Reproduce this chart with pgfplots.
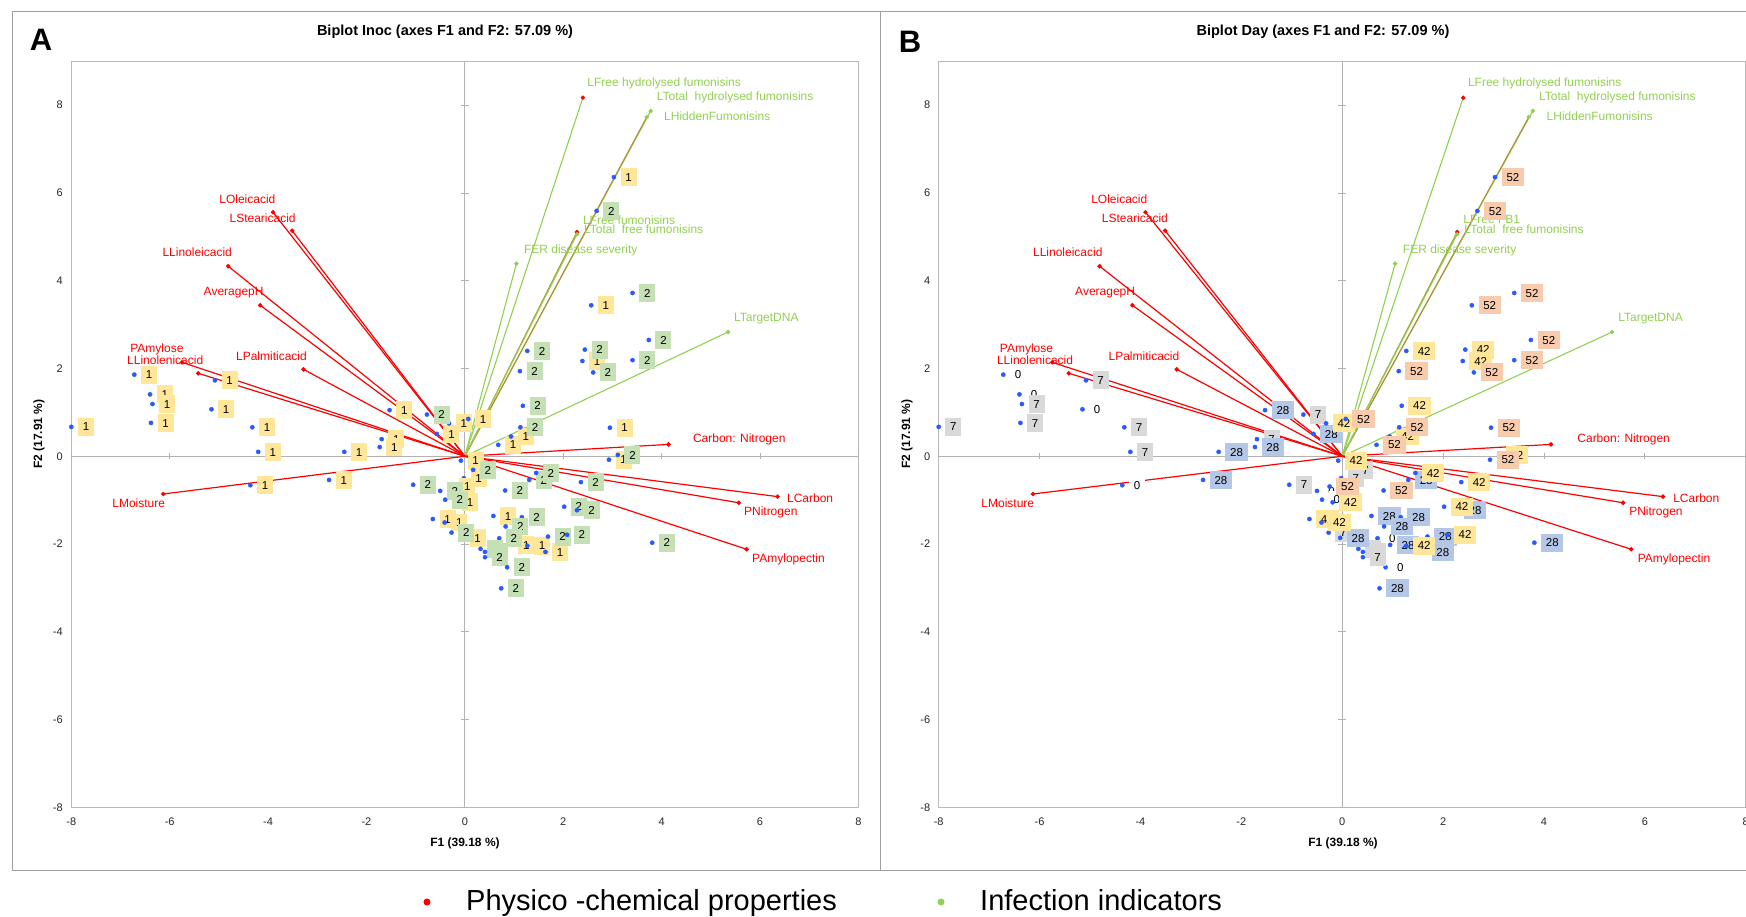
\documentclass[border=0pt]{standalone}
\usepackage{pgfplots}
\pgfplotsset{compat=1.18}
\usepackage{pgfplotstable}
\usepackage{fontspec}
\setmainfont{Liberation Sans}

\definecolor{vred}{RGB}{255,0,0}
\definecolor{vgreen}{RGB}{146,208,80}
\definecolor{volive}{RGB}{178,142,62}
\definecolor{dotblue}{RGB}{40,90,255}
\definecolor{byellow}{RGB}{255,230,153}
\definecolor{bgreen}{RGB}{197,224,180}
\definecolor{bgray}{RGB}{217,217,217}
\definecolor{bblue}{RGB}{180,199,231}
\definecolor{borange}{RGB}{248,203,173}
\definecolor{framegray}{RGB}{160,160,160}

\newcommand\ticklab{\fontsize{11}{11}\selectfont}
\newcommand\vlab{\fontsize{12}{12}\selectfont}
\newcommand\boxlab{\fontsize{11.5}{11.5}\selectfont}

% ---------- observations, panel A (Inoc) ----------
\pgfplotstableread{
x y
-8.00 0.67
-6.72 1.86
-6.40 1.41
-6.35 1.19
-6.38 0.76
-5.08 1.73
-5.15 1.07
-4.32 0.66
-4.20 0.10
-4.36 -0.66
-2.76 -0.54
-2.45 0.10
-1.53 1.05
-1.69 0.39
-1.73 0.21
-0.57 0.51
-0.32 0.75
0.07 0.85
0.68 0.26
0.94 0.45
2.39 2.17
2.95 0.65
2.57 3.44
3.03 6.36
2.93 -0.08
-0.08 -0.10
-0.02 -0.50
-0.25 -0.69
-0.19 -1.05
-0.65 -1.43
-0.41 -1.51
-0.04 -1.86
0.58 -1.36
0.95 -2.02
1.27 -2.04
1.64 -2.18
}\Aone
\pgfplotstableread{
x y
-0.77 0.95
1.13 0.66
1.18 1.15
1.12 1.94
1.27 2.40
2.44 2.43
2.61 1.91
3.41 2.19
3.74 2.65
3.41 3.72
2.68 5.59
3.11 0.03
0.17 -0.31
-1.05 -0.65
-0.50 -0.79
-0.40 -0.99
-0.27 -1.74
0.82 -0.78
1.31 -0.54
1.45 -0.38
2.36 -0.59
2.02 -1.15
2.28 -1.23
1.16 -1.39
0.83 -1.60
0.70 -1.87
0.32 -2.11
0.41 -2.18
0.41 -2.30
1.69 -1.83
2.08 -1.79
3.81 -1.97
0.86 -2.53
0.74 -3.01
}\Atwo
% ---------- observations, panel B (Day) ----------
\pgfplotstableread{
x y
-6.72 1.86
-6.40 1.41
-5.15 1.07
-4.36 -0.66
-0.50 -0.79
-0.40 -0.99
0.70 -1.87
0.86 -2.53
}\Bzero
\pgfplotstableread{
x y
-8.00 0.67
-6.35 1.19
-6.38 0.76
-5.08 1.73
-4.32 0.66
-4.20 0.10
-1.69 0.39
-0.77 0.95
0.17 -0.31
-0.02 -0.50
-1.05 -0.65
-0.27 -1.74
0.32 -2.11
0.41 -2.18
0.41 -2.30
}\Bseven
\pgfplotstableread{
x y
-2.76 -0.54
-2.45 0.10
-1.53 1.05
-1.73 0.21
-0.57 0.51
-0.04 -1.86
1.31 -0.54
2.28 -1.23
0.58 -1.36
1.16 -1.39
0.83 -1.60
0.95 -2.02
1.64 -2.18
1.69 -1.83
3.81 -1.97
0.74 -3.01
}\Btwentyeight
\pgfplotstableread{
x y
-0.32 0.75
0.94 0.45
1.18 1.15
1.27 2.40
2.44 2.43
2.39 2.17
3.11 0.03
-0.08 -0.10
-0.19 -1.05
-0.65 -1.43
-0.41 -1.51
1.45 -0.38
2.36 -0.59
2.02 -1.15
1.27 -2.04
2.08 -1.79
}\Bfortytwo
\pgfplotstableread{
x y
0.07 0.85
0.68 0.26
1.13 0.66
1.12 1.94
2.61 1.91
3.41 2.19
3.74 2.65
2.95 0.65
2.57 3.44
3.41 3.72
2.68 5.59
3.03 6.36
2.93 -0.08
-0.25 -0.69
0.82 -0.78
}\Bfiftytwo

\pgfplotsset{
  bip/.style={
    scale only axis, height=746pt, anchor=south west,
    xmin=-8, xmax=8, ymin=-8, ymax=9,
    xtick={-8,-6,...,8}, ytick={-8,-6,...,8},
    axis line style={draw=gray!55, line width=0.8pt},
    major tick length=0pt,
    tick label style={font=\ticklab, text=black!85},
    /pgf/number format/assume math mode=true,
    yticklabel style={xshift=-5pt},
    xticklabel style={yshift=-7pt},
    clip=false,
  },
  vr/.style={vred, line width=1.2pt, mark=*, mark size=1.6pt, mark indices={2}},
  vg/.style={vgreen, line width=1.1pt, mark=*, mark size=1.6pt, mark indices={2}},
  vo/.style={volive, line width=1.1pt, mark=*, mark size=1.6pt, mark indices={2}},
  obs/.style={only marks, mark=*, mark size=2.1pt, color=dotblue,
    every node near coord/.style={fill=#1, text=black, font=\boxlab, anchor=west,
      xshift=6.5pt, inner xsep=4.8pt, inner ysep=4.8pt, text height=8.3pt, text depth=0pt}},
}

\newcommand{\zerolines}{%
  \draw[gray!60, line width=0.8pt] (axis cs:-8,0) -- (axis cs:8,0);
  \draw[gray!60, line width=0.8pt] (axis cs:0,-8) -- (axis cs:0,9);
  \pgfplotsinvokeforeach{-8,-6,-4,-2,2,4,6,8}{%
    \draw[gray!60, line width=0.8pt] ([yshift=-3pt]axis cs:##1,0) -- ([yshift=3pt]axis cs:##1,0);
    \draw[gray!60, line width=0.8pt] ([xshift=-4pt]axis cs:0,##1) -- ([xshift=4pt]axis cs:0,##1);
  }%
}

\newcommand{\biplotvectors}{%
  \addplot[vg, mark options={fill=vred, draw=vred}] coordinates {(0,0) (2.40,8.17)};
  \addplot[vg] coordinates {(0,0) (3.78,7.87)};
  \addplot[vo, mark options={fill=vgreen, draw=vgreen}] coordinates {(0,0) (3.70,7.73)};
  \addplot[vo, mark options={fill=vred, draw=vred}] coordinates {(0,0) (2.28,5.11)};
  \addplot[vg] coordinates {(0,0) (2.28,5.06)};
  \addplot[vg] coordinates {(0,0) (1.05,4.39)};
  \addplot[vg] coordinates {(0,0) (5.35,2.83)};
  \addplot[vr] coordinates {(0,0) (-3.90,5.56)};
  \addplot[vr] coordinates {(0,0) (-3.51,5.14)};
  \addplot[vr] coordinates {(0,0) (-4.81,4.33)};
  \addplot[vr] coordinates {(0,0) (-4.16,3.44)};
  \addplot[vr] coordinates {(0,0) (-5.75,2.14)};
  \addplot[vr] coordinates {(0,0) (-5.42,1.89)};
  \addplot[vr] coordinates {(0,0) (-3.28,1.98)};
  \addplot[vr] coordinates {(0,0) (4.14,0.27)};
  \addplot[vr] coordinates {(0,0) (-6.13,-0.86)};
  \addplot[vr] coordinates {(0,0) (6.36,-0.92)};
  \addplot[vr] coordinates {(0,0) (5.57,-1.06)};
  \addplot[vr] coordinates {(0,0) (5.73,-2.12)};
}

\newcommand{\vectorlabels}[1]{%
  \node[font=\vlab, text=vred, inner sep=0pt] at (axis cs:-4.42,5.86) {LOleicacid};
  \node[font=\vlab, text=vred, inner sep=0pt] at (axis cs:-4.11,5.43) {LStearicacid};
  \node[font=\vlab, text=vred, inner sep=0pt] at (axis cs:-5.44,4.64) {LLinoleicacid};
  \node[font=\vlab, text=vred, inner sep=0pt] at (axis cs:-4.70,3.73) {AveragepH};
  \node[font=\vlab, text=vred, inner sep=0pt] at (axis cs:-6.26,2.44) {PAmylose};
  \node[font=\vlab, text=vred, inner sep=0pt] at (axis cs:-6.09,2.19) {LLinolenicacid};
  \node[font=\vlab, text=vred, inner sep=0pt] at (axis cs:-3.93,2.27) {LPalmiticacid};
  \node[font=\vlab, text=vred, inner sep=0pt] at (axis cs:5.58,0.38) {Carbon: Nitrogen};
  \node[font=\vlab, text=vred, inner sep=0pt] at (axis cs:-6.63,-1.06) {LMoisture};
  \node[font=\vlab, text=vred, inner sep=0pt] at (axis cs:7.02,-0.95) {LCarbon};
  \node[font=\vlab, text=vred, inner sep=0pt] at (axis cs:6.22,-1.27) {PNitrogen};
  \node[font=\vlab, text=vred, inner sep=0pt] at (axis cs:6.58,-2.34) {PAmylopectin};
  \node[font=\vlab, text=vgreen, inner sep=0pt, anchor=west] at (axis cs:2.49,8.49) {LFree hydrolysed fumonisins};
  \node[font=\vlab, text=vgreen, inner sep=0pt, anchor=west] at (axis cs:3.90,8.18) {LTotal\ \ hydrolysed fumonisins};
  \node[font=\vlab, text=vgreen, inner sep=0pt, anchor=west] at (axis cs:4.05,7.76) {LHiddenFumonisins};
  \node[font=\vlab, text=vgreen, inner sep=0pt, anchor=west] at (axis cs:2.40,5.39) {#1};
  \node[font=\vlab, text=vgreen, inner sep=0pt, anchor=west] at (axis cs:2.42,5.17) {LTotal\ \ free fumonisins};
  \node[font=\vlab, text=vgreen, inner sep=0pt, anchor=west] at (axis cs:1.20,4.68) {FER disease severity};
  \node[font=\vlab, text=vgreen, inner sep=0pt, anchor=west] at (axis cs:5.47,3.14) {LTargetDNA};
}

\begin{document}
\begin{tikzpicture}
\useasboundingbox (0pt,0pt) rectangle (1746pt,-916pt);

% panel frames
\draw[framegray, line width=1pt] (12pt,-11pt) rectangle (880pt,-870pt);
\draw[framegray, line width=1pt] (880pt,-11pt) -- (1760pt,-11pt);
\draw[framegray, line width=1pt] (880pt,-870pt) -- (1760pt,-870pt);

% ---------------- Panel A ----------------
\begin{axis}[bip, at={(71.3pt,-807.3pt)}, width=787pt]
  \zerolines
  \biplotvectors
  \addplot[obs=byellow, nodes near coords={1}] table {\Aone};
  \addplot[obs=bgreen, nodes near coords={2}] table {\Atwo};
  \vectorlabels{LFree fumonisins}
\end{axis}

% ---------------- Panel B ----------------
\begin{axis}[bip, at={(938.7pt,-807.3pt)}, width=807pt]
  \zerolines
  \biplotvectors
  \addplot[obs=white, nodes near coords={0}] table {\Bzero};
  \addplot[obs=bgray, nodes near coords={7}] table {\Bseven};
  \addplot[obs=bblue, nodes near coords={28}] table {\Btwentyeight};
  \addplot[obs=byellow, nodes near coords={42}] table {\Bfortytwo};
  \addplot[obs=borange, nodes near coords={52}] table {\Bfiftytwo};
  \vectorlabels{LFree FB1}
\end{axis}

% titles, letters, axis labels
\node[font=\bfseries\fontsize{31}{31}\selectfont] at (41pt,-40pt) {A};
\node[font=\bfseries\fontsize{31}{31}\selectfont] at (910pt,-42pt) {B};
\node[font=\bfseries\fontsize{14.5}{15}\selectfont] at (445pt,-32pt) {Biplot Inoc (axes F1 and F2: 57.09 \%)};
\node[font=\bfseries\fontsize{14.5}{15}\selectfont] at (1323pt,-32pt) {Biplot Day (axes F1 and F2: 57.09 \%)};
\node[font=\bfseries\fontsize{12}{12}\selectfont] at (465pt,-843pt) {F1 (39.18 \%)};
\node[font=\bfseries\fontsize{12}{12}\selectfont] at (1343pt,-843pt) {F1 (39.18 \%)};
\node[font=\bfseries\fontsize{12}{12}\selectfont, rotate=90] at (39pt,-434pt) {F2 (17.91 \%)};
\node[font=\bfseries\fontsize{12}{12}\selectfont, rotate=90] at (907pt,-434pt) {F2 (17.91 \%)};

% legend
\fill[vred] (427pt,-902pt) circle (3.5pt);
\node[font=\fontsize{29}{29}\selectfont, anchor=base west, inner sep=0pt] at (466pt,-910pt) {Physico -chemical properties};
\fill[vgreen] (941pt,-902pt) circle (3.5pt);
\node[font=\fontsize{29}{29}\selectfont, anchor=base west, inner sep=0pt] at (980pt,-910pt) {Infection indicators};
\end{tikzpicture}
\end{document}
